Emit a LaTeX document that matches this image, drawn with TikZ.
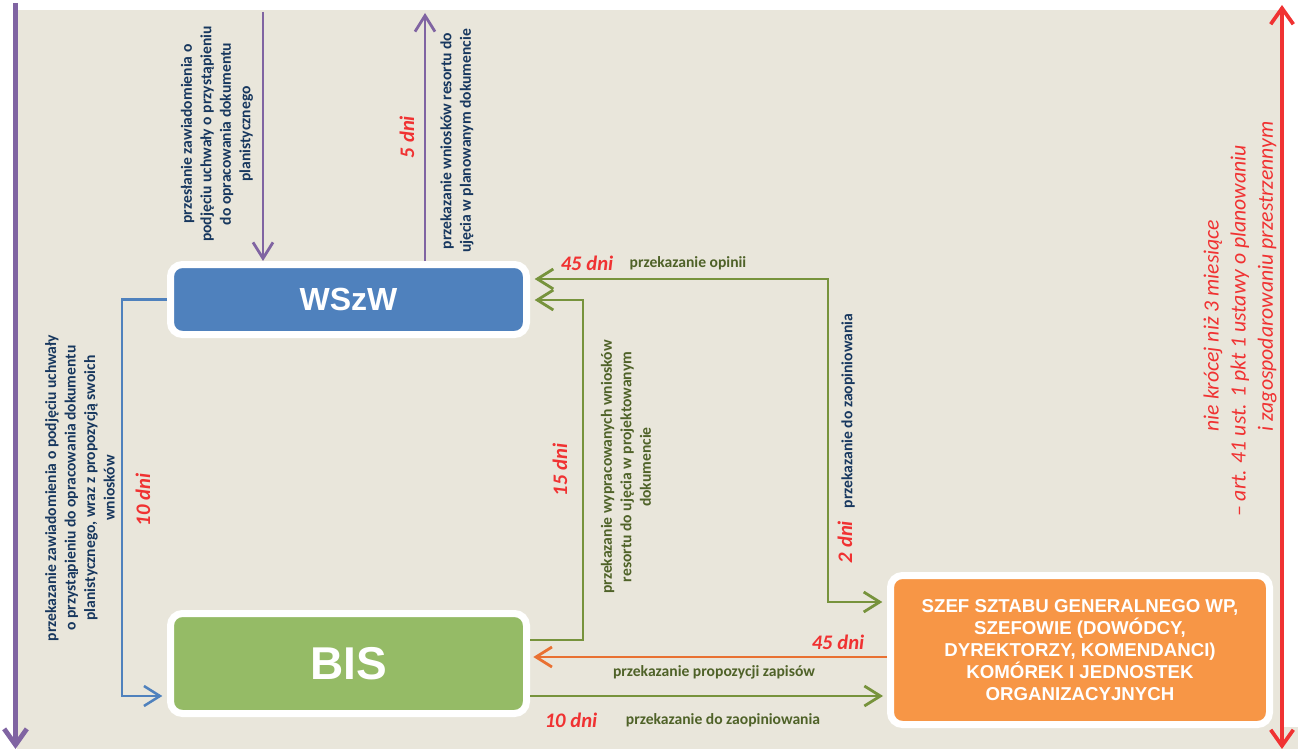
\documentclass[tikz,border=0pt]{standalone}
\usepackage{fontspec}
\setmainfont{Carlito}
\newfontfamily\arialf{Liberation Sans}
\usetikzlibrary{arrows.meta}
\definecolor{bgbeige}{HTML}{E9E6DB}
\definecolor{boxblue}{HTML}{4F81BD}
\definecolor{boxgreen}{HTML}{95BB66}
\definecolor{boxorange}{HTML}{F79646}
\definecolor{linepurple}{HTML}{8064A2}
\definecolor{linegreen}{HTML}{77933C}
\definecolor{lineorange}{HTML}{E97132}
\definecolor{lineblue}{HTML}{4F81BD}
\definecolor{redtxt}{HTML}{F03232}
\definecolor{navytxt}{HTML}{17375E}
\definecolor{greentxt}{HTML}{4F6228}
\tikzset{
  box/.style={draw=white, line width=5.25pt, rounded corners=9pt, inner sep=0pt,
    text=white, font=\arialf\bfseries, align=center},
  conn/.style={line width=2.1pt, shorten >=3.5pt,
    -{Straight Barb[length=12pt,width=15pt]}},
  lbl/.style={font=\bfseries\fontsize{11.7}{14.6}\selectfont, align=center, inner sep=0pt},
  vlbl/.style={lbl, rotate=90},
  dni/.style={font=\bfseries\itshape\fontsize{15.5}{18}\selectfont, text=redtxt, inner sep=0pt},
  vdni/.style={dni, rotate=90}
}
\begin{document}
\begin{tikzpicture}[x=0.75pt,y=-0.75pt]
\useasboundingbox (0,0) rectangle (1304,749);
\fill[bgbeige] (17,10) rectangle (1283,749);
\fill[bgbeige] (1283,727) rectangle (1298,749);

% boxes
\node[box, fill=boxblue, minimum width=267pt, minimum height=52.5pt,
  font=\arialf\bfseries\fontsize{24}{28}\selectfont] (wszw) at (348.5,299.5) {WSzW};
\node[box, fill=boxgreen, minimum width=267pt, minimum height=75pt,
  font=\arialf\bfseries\fontsize{34.5}{40}\selectfont] (bis) at (348.5,663.5) {BIS};
\node[box, fill=boxorange, minimum width=284.25pt, minimum height=111.75pt,
  font=\arialf\bfseries\fontsize{14}{16.5}\selectfont] (org) at (1080,650)
  {SZEF SZTABU GENERALNEGO WP,\\SZEFOWIE (DOWÓDCY,\\DYREKTORZY, KOMENDANCI)\\KOMÓREK I JEDNOSTEK\\ORGANIZACYJNYCH};

% long side arrows
\coordinate (ptop) at (15.5,3);
\coordinate (pbot) at (15.5,749);
\draw[linepurple, line width=3.6pt, -{Straight Barb[length=12pt,width=17pt]}] (ptop) -- (pbot);
\coordinate (rtop) at (1282,5);
\coordinate (rbot) at (1282,749);
\draw[redtxt, line width=2.8pt, {Straight Barb[length=12pt,width=17pt]}-{Straight Barb[length=12pt,width=17pt]}] (rtop) -- (rbot);

% purple connectors
\coordinate (pd) at (263,12);
\draw[conn, linepurple, shorten >=0pt] (pd) -- (pd |- wszw.north);
\coordinate (pu) at (425,13);
\draw[conn, linepurple, shorten >=0pt] (pu |- wszw.north) -- (pu);

% blue connector
\coordinate (bc) at (122,696);
\draw[conn, lineblue, line width=1.9pt] (wszw.west) -| (bc) -- (bc -| bis.west);

% green: WSzW <-> SZEF
\coordinate (g1) at (828,279);
\coordinate (g2) at (828,602);
\draw[linegreen, line width=2.1pt, shorten >=3.5pt, shorten <=3.5pt,
  {Straight Barb[length=12pt,width=15pt]}-{Straight Barb[length=12pt,width=15pt]}]
  (g1 -| wszw.east) -- (g1) -- (g2) -- (g2 -| org.west);

% green: BIS -> WSzW
\coordinate (g3) at (583,640);
\coordinate (g4) at (583,300);
\draw[conn, linegreen] (g3 -| bis.east) -- (g3) -- (g4) -- (g4 -| wszw.east);

% orange: SZEF -> BIS
\coordinate (o1) at (700,657);
\draw[conn, lineorange, shorten >=2.5pt] (o1 -| org.west) -- (o1 -| bis.east);

% green: BIS -> SZEF
\coordinate (g5) at (700,696);
\draw[conn, linegreen, shorten >=3pt] (g5 -| bis.east) -- (g5 -| org.west);

% labels
\node[vlbl, text=navytxt] (l1) at (217,134)
  {przesłanie zawiadomienia o\\podjęciu uchwały o przystąpieniu\\do opracowania dokumentu\\planistycznego};
\node[vlbl, text=navytxt] (l2) at (457,141)
  {przekazanie wniosków resortu do\\ujęcia w planowanym dokumencie};
\node[vdni] (d5) at (407,137) {5 dni};
\node[vlbl, text=navytxt] (l3) at (80,488)
  {przekazanie zawiadomienia o podjęciu uchwały\\o przystąpieniu do opracowania dokumentu\\planistycznego, wraz z propozycją swoich\\wniosków};
\node[vdni] (d10a) at (143,500) {10 dni};
\node[vlbl, text=greentxt] (l4) at (626,467)
  {przekazanie wypracowanych wniosków\\resortu do ujęcia w projektowanym\\dokumencie};
\node[vdni] (d15) at (560,470) {15 dni};
\node[vlbl, text=navytxt] (l5) at (848,411) {przekazanie do zaopiniowania};
\node[vdni] (d2) at (845,542) {2 dni};
\node[dni] (d45a) at (587,263) {45 dni};
\node[lbl, text=greentxt] (l6) at (688,263) {przekazanie opinii};
\node[dni] (d45b) at (838,642) {45 dni};
\node[lbl, text=greentxt] (l7) at (714,672) {przekazanie propozycji zapisów};
\node[dni] (d10b) at (571,720) {10 dni};
\node[lbl, text=greentxt] (l8) at (723,720) {przekazanie do zaopiniowania};

% right legal note
\node[rotate=90, anchor=west, align=left, inner sep=0pt, text=redtxt,
  font=\itshape\fontsize{16.3}{20.3}\selectfont] (note) at (1240,517)
  {\hspace*{64pt}nie krócej niż 3 miesiące\\– art. 41 ust. 1 pkt 1 ustawy o planowaniu\\\hspace*{64pt}i zagospodarowaniu przestrzennym};
\end{tikzpicture}
\end{document}
